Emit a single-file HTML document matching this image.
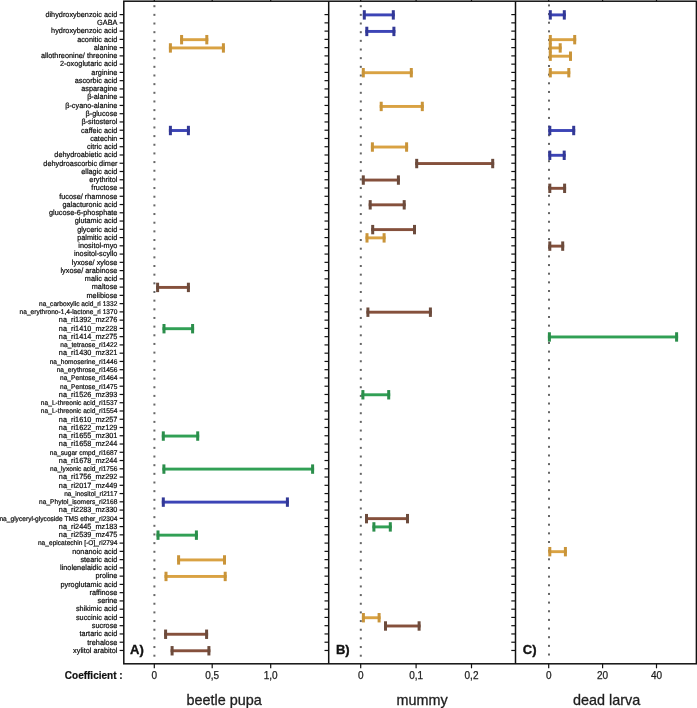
<!DOCTYPE html><html><head><meta charset="utf-8"><style>html,body{margin:0;padding:0;background:#fff;}svg{display:block;}text{font-family:"Liberation Sans",sans-serif;}</style></head><body>
<svg style="will-change:transform" width="697" height="708" viewBox="0 0 697 708">
<g transform="scale(0.1,0.10300000000000001)" fill="#0a0a0a" stroke="#0a0a0a" stroke-width="2.0" text-anchor="end" text-rendering="geometricPrecision">
<text x="1174.0" y="164.1" font-size="73.20">dihydroxybenzoic acid</text>
<text x="1174.0" y="244.3" font-size="73.20">GABA</text>
<text x="1174.0" y="324.4" font-size="73.20">hydroxybenzoic acid</text>
<text x="1174.0" y="404.6" font-size="73.20">aconitic acid</text>
<text x="1174.0" y="484.8" font-size="73.20">alanine</text>
<text x="1174.0" y="565.0" font-size="73.20">allothreonine/ threonine</text>
<text x="1174.0" y="645.1" font-size="73.20">2-oxoglutaric acid</text>
<text x="1174.0" y="725.3" font-size="73.20">arginine</text>
<text x="1174.0" y="805.5" font-size="73.20">ascorbic acid</text>
<text x="1174.0" y="885.7" font-size="73.20">asparagine</text>
<text x="1174.0" y="965.8" font-size="73.20">β-alanine</text>
<text x="1174.0" y="1046.0" font-size="73.20">β-cyano-alanine</text>
<text x="1174.0" y="1126.2" font-size="73.20">β-glucose</text>
<text x="1174.0" y="1206.3" font-size="73.20">β-sitosterol</text>
<text x="1174.0" y="1286.5" font-size="73.20">caffeic acid</text>
<text x="1174.0" y="1366.7" font-size="73.20">catechin</text>
<text x="1174.0" y="1446.9" font-size="73.20">citric acid</text>
<text x="1174.0" y="1527.0" font-size="73.20">dehydroabietic acid</text>
<text x="1174.0" y="1607.2" font-size="73.20">dehydroascorbic dimer</text>
<text x="1174.0" y="1687.4" font-size="73.20">ellagic acid</text>
<text x="1174.0" y="1767.6" font-size="73.20">erythritol</text>
<text x="1174.0" y="1847.7" font-size="73.20">fructose</text>
<text x="1174.0" y="1927.9" font-size="73.20">fucose/ rhamnose</text>
<text x="1174.0" y="2008.1" font-size="73.20">galacturonic acid</text>
<text x="1174.0" y="2088.3" font-size="73.20">glucose-6-phosphate</text>
<text x="1174.0" y="2168.4" font-size="73.20">glutamic acid</text>
<text x="1174.0" y="2248.6" font-size="73.20">glyceric acid</text>
<text x="1174.0" y="2328.8" font-size="73.20">palmitic acid</text>
<text x="1174.0" y="2409.0" font-size="73.20">inositol-myo</text>
<text x="1174.0" y="2489.1" font-size="73.20">inositol-scyllo</text>
<text x="1174.0" y="2569.3" font-size="73.20">lyxose/ xylose</text>
<text x="1174.0" y="2649.5" font-size="73.20">lyxose/ arabinose</text>
<text x="1174.0" y="2729.7" font-size="73.20">malic acid</text>
<text x="1174.0" y="2809.8" font-size="73.20">maltose</text>
<text x="1174.0" y="2890.0" font-size="73.20">melibiose</text>
<text x="1174.0" y="2970.7" font-size="66.20">na_carboxylic acid_ri 1332</text>
<text x="1174.0" y="3050.9" font-size="66.20">na_erythrono-1,4-lactone_ri 1370</text>
<text x="1174.0" y="3130.5" font-size="73.20">na_ri1392_mz276</text>
<text x="1174.0" y="3210.7" font-size="73.20">na_ri1410_mz228</text>
<text x="1174.0" y="3290.9" font-size="73.20">na_ri1414_mz275</text>
<text x="1174.0" y="3371.6" font-size="66.20">na_tetraose_ri1422</text>
<text x="1174.0" y="3451.2" font-size="73.20">na_ri1430_mz321</text>
<text x="1174.0" y="3531.9" font-size="66.20">na_homoserine_ri1446</text>
<text x="1174.0" y="3612.1" font-size="66.20">na_erythrose_ri1456</text>
<text x="1174.0" y="3692.3" font-size="66.20">na_Pentose_ri1464</text>
<text x="1174.0" y="3772.4" font-size="66.20">na_Pentose_ri1475</text>
<text x="1174.0" y="3852.1" font-size="73.20">na_ri1526_mz393</text>
<text x="1174.0" y="3932.8" font-size="66.20">na_L-threonic acid_ri1537</text>
<text x="1174.0" y="4013.0" font-size="66.20">na_L-threonic acid_ri1554</text>
<text x="1174.0" y="4092.6" font-size="73.20">na_ri1610_mz257</text>
<text x="1174.0" y="4172.8" font-size="73.20">na_ri1622_mz129</text>
<text x="1174.0" y="4253.0" font-size="73.20">na_ri1655_mz301</text>
<text x="1174.0" y="4333.2" font-size="73.20">na_ri1658_mz244</text>
<text x="1174.0" y="4413.8" font-size="66.20">na_sugar cmpd_ri1687</text>
<text x="1174.0" y="4493.5" font-size="73.20">na_ri1678_mz244</text>
<text x="1174.0" y="4574.2" font-size="66.20">na_lyxonic acid_ri1756</text>
<text x="1174.0" y="4653.9" font-size="73.20">na_ri1756_mz292</text>
<text x="1174.0" y="4734.0" font-size="73.20">na_ri2017_mz449</text>
<text x="1174.0" y="4814.7" font-size="66.20">na_inositol_ri2117</text>
<text x="1174.0" y="4894.9" font-size="66.20">na_Phytol_isomers_ri2168</text>
<text x="1174.0" y="4974.6" font-size="73.20">na_ri2283_mz330</text>
<text x="1174.0" y="5055.2" font-size="66.20">na_glyceryl-glycoside TMS ether_ri2304</text>
<text x="1174.0" y="5134.9" font-size="73.20">na_ri2445_mz183</text>
<text x="1174.0" y="5215.1" font-size="73.20">na_ri2539_mz475</text>
<text x="1174.0" y="5295.7" font-size="66.20">na_epicatechin [-O]_ri2794</text>
<text x="1174.0" y="5375.4" font-size="73.20">nonanoic acid</text>
<text x="1174.0" y="5455.6" font-size="73.20">stearic acid</text>
<text x="1174.0" y="5535.8" font-size="73.20">linolenelaidic acid</text>
<text x="1174.0" y="5616.0" font-size="73.20">proline</text>
<text x="1174.0" y="5696.1" font-size="73.20">pyroglutamic acid</text>
<text x="1174.0" y="5776.3" font-size="73.20">raffinose</text>
<text x="1174.0" y="5856.5" font-size="73.20">serine</text>
<text x="1174.0" y="5936.7" font-size="73.20">shikimic acid</text>
<text x="1174.0" y="6016.8" font-size="73.20">succinic acid</text>
<text x="1174.0" y="6097.0" font-size="73.20">sucrose</text>
<text x="1174.0" y="6177.2" font-size="73.20">tartaric acid</text>
<text x="1174.0" y="6257.4" font-size="73.20">trehalose</text>
<text x="1174.0" y="6337.5" font-size="73.20">xylitol arabitol</text>
</g>
<g stroke="#111" stroke-width="1.5" fill="none">
<rect x="123.8" y="1.2" width="572.6" height="662.5999999999999"/>
<line x1="328.7" y1="1.2" x2="328.7" y2="663.8"/><line x1="515.5" y1="1.2" x2="515.5" y2="663.8"/>
</g>
<g stroke="#111" stroke-width="1.2">
<line x1="119.6" y1="14.60" x2="123.8" y2="14.60"/>
<line x1="119.6" y1="22.86" x2="123.8" y2="22.86"/>
<line x1="119.6" y1="31.12" x2="123.8" y2="31.12"/>
<line x1="119.6" y1="39.37" x2="123.8" y2="39.37"/>
<line x1="119.6" y1="47.63" x2="123.8" y2="47.63"/>
<line x1="119.6" y1="55.89" x2="123.8" y2="55.89"/>
<line x1="119.6" y1="64.15" x2="123.8" y2="64.15"/>
<line x1="119.6" y1="72.41" x2="123.8" y2="72.41"/>
<line x1="119.6" y1="80.66" x2="123.8" y2="80.66"/>
<line x1="119.6" y1="88.92" x2="123.8" y2="88.92"/>
<line x1="119.6" y1="97.18" x2="123.8" y2="97.18"/>
<line x1="119.6" y1="105.44" x2="123.8" y2="105.44"/>
<line x1="119.6" y1="113.70" x2="123.8" y2="113.70"/>
<line x1="119.6" y1="121.95" x2="123.8" y2="121.95"/>
<line x1="119.6" y1="130.21" x2="123.8" y2="130.21"/>
<line x1="119.6" y1="138.47" x2="123.8" y2="138.47"/>
<line x1="119.6" y1="146.73" x2="123.8" y2="146.73"/>
<line x1="119.6" y1="154.99" x2="123.8" y2="154.99"/>
<line x1="119.6" y1="163.24" x2="123.8" y2="163.24"/>
<line x1="119.6" y1="171.50" x2="123.8" y2="171.50"/>
<line x1="119.6" y1="179.76" x2="123.8" y2="179.76"/>
<line x1="119.6" y1="188.02" x2="123.8" y2="188.02"/>
<line x1="119.6" y1="196.28" x2="123.8" y2="196.28"/>
<line x1="119.6" y1="204.53" x2="123.8" y2="204.53"/>
<line x1="119.6" y1="212.79" x2="123.8" y2="212.79"/>
<line x1="119.6" y1="221.05" x2="123.8" y2="221.05"/>
<line x1="119.6" y1="229.31" x2="123.8" y2="229.31"/>
<line x1="119.6" y1="237.57" x2="123.8" y2="237.57"/>
<line x1="119.6" y1="245.82" x2="123.8" y2="245.82"/>
<line x1="119.6" y1="254.08" x2="123.8" y2="254.08"/>
<line x1="119.6" y1="262.34" x2="123.8" y2="262.34"/>
<line x1="119.6" y1="270.60" x2="123.8" y2="270.60"/>
<line x1="119.6" y1="278.86" x2="123.8" y2="278.86"/>
<line x1="119.6" y1="287.11" x2="123.8" y2="287.11"/>
<line x1="119.6" y1="295.37" x2="123.8" y2="295.37"/>
<line x1="119.6" y1="303.63" x2="123.8" y2="303.63"/>
<line x1="119.6" y1="311.89" x2="123.8" y2="311.89"/>
<line x1="119.6" y1="320.15" x2="123.8" y2="320.15"/>
<line x1="119.6" y1="328.40" x2="123.8" y2="328.40"/>
<line x1="119.6" y1="336.66" x2="123.8" y2="336.66"/>
<line x1="119.6" y1="344.92" x2="123.8" y2="344.92"/>
<line x1="119.6" y1="353.18" x2="123.8" y2="353.18"/>
<line x1="119.6" y1="361.44" x2="123.8" y2="361.44"/>
<line x1="119.6" y1="369.69" x2="123.8" y2="369.69"/>
<line x1="119.6" y1="377.95" x2="123.8" y2="377.95"/>
<line x1="119.6" y1="386.21" x2="123.8" y2="386.21"/>
<line x1="119.6" y1="394.47" x2="123.8" y2="394.47"/>
<line x1="119.6" y1="402.73" x2="123.8" y2="402.73"/>
<line x1="119.6" y1="410.98" x2="123.8" y2="410.98"/>
<line x1="119.6" y1="419.24" x2="123.8" y2="419.24"/>
<line x1="119.6" y1="427.50" x2="123.8" y2="427.50"/>
<line x1="119.6" y1="435.76" x2="123.8" y2="435.76"/>
<line x1="119.6" y1="444.02" x2="123.8" y2="444.02"/>
<line x1="119.6" y1="452.27" x2="123.8" y2="452.27"/>
<line x1="119.6" y1="460.53" x2="123.8" y2="460.53"/>
<line x1="119.6" y1="468.79" x2="123.8" y2="468.79"/>
<line x1="119.6" y1="477.05" x2="123.8" y2="477.05"/>
<line x1="119.6" y1="485.31" x2="123.8" y2="485.31"/>
<line x1="119.6" y1="493.56" x2="123.8" y2="493.56"/>
<line x1="119.6" y1="501.82" x2="123.8" y2="501.82"/>
<line x1="119.6" y1="510.08" x2="123.8" y2="510.08"/>
<line x1="119.6" y1="518.34" x2="123.8" y2="518.34"/>
<line x1="119.6" y1="526.60" x2="123.8" y2="526.60"/>
<line x1="119.6" y1="534.85" x2="123.8" y2="534.85"/>
<line x1="119.6" y1="543.11" x2="123.8" y2="543.11"/>
<line x1="119.6" y1="551.37" x2="123.8" y2="551.37"/>
<line x1="119.6" y1="559.63" x2="123.8" y2="559.63"/>
<line x1="119.6" y1="567.89" x2="123.8" y2="567.89"/>
<line x1="119.6" y1="576.14" x2="123.8" y2="576.14"/>
<line x1="119.6" y1="584.40" x2="123.8" y2="584.40"/>
<line x1="119.6" y1="592.66" x2="123.8" y2="592.66"/>
<line x1="119.6" y1="600.92" x2="123.8" y2="600.92"/>
<line x1="119.6" y1="609.18" x2="123.8" y2="609.18"/>
<line x1="119.6" y1="617.43" x2="123.8" y2="617.43"/>
<line x1="119.6" y1="625.69" x2="123.8" y2="625.69"/>
<line x1="119.6" y1="633.95" x2="123.8" y2="633.95"/>
<line x1="119.6" y1="642.21" x2="123.8" y2="642.21"/>
<line x1="119.6" y1="650.47" x2="123.8" y2="650.47"/>
<line x1="324.5" y1="14.60" x2="328.7" y2="14.60"/>
<line x1="324.5" y1="22.86" x2="328.7" y2="22.86"/>
<line x1="324.5" y1="31.12" x2="328.7" y2="31.12"/>
<line x1="324.5" y1="39.37" x2="328.7" y2="39.37"/>
<line x1="324.5" y1="47.63" x2="328.7" y2="47.63"/>
<line x1="324.5" y1="55.89" x2="328.7" y2="55.89"/>
<line x1="324.5" y1="64.15" x2="328.7" y2="64.15"/>
<line x1="324.5" y1="72.41" x2="328.7" y2="72.41"/>
<line x1="324.5" y1="80.66" x2="328.7" y2="80.66"/>
<line x1="324.5" y1="88.92" x2="328.7" y2="88.92"/>
<line x1="324.5" y1="97.18" x2="328.7" y2="97.18"/>
<line x1="324.5" y1="105.44" x2="328.7" y2="105.44"/>
<line x1="324.5" y1="113.70" x2="328.7" y2="113.70"/>
<line x1="324.5" y1="121.95" x2="328.7" y2="121.95"/>
<line x1="324.5" y1="130.21" x2="328.7" y2="130.21"/>
<line x1="324.5" y1="138.47" x2="328.7" y2="138.47"/>
<line x1="324.5" y1="146.73" x2="328.7" y2="146.73"/>
<line x1="324.5" y1="154.99" x2="328.7" y2="154.99"/>
<line x1="324.5" y1="163.24" x2="328.7" y2="163.24"/>
<line x1="324.5" y1="171.50" x2="328.7" y2="171.50"/>
<line x1="324.5" y1="179.76" x2="328.7" y2="179.76"/>
<line x1="324.5" y1="188.02" x2="328.7" y2="188.02"/>
<line x1="324.5" y1="196.28" x2="328.7" y2="196.28"/>
<line x1="324.5" y1="204.53" x2="328.7" y2="204.53"/>
<line x1="324.5" y1="212.79" x2="328.7" y2="212.79"/>
<line x1="324.5" y1="221.05" x2="328.7" y2="221.05"/>
<line x1="324.5" y1="229.31" x2="328.7" y2="229.31"/>
<line x1="324.5" y1="237.57" x2="328.7" y2="237.57"/>
<line x1="324.5" y1="245.82" x2="328.7" y2="245.82"/>
<line x1="324.5" y1="254.08" x2="328.7" y2="254.08"/>
<line x1="324.5" y1="262.34" x2="328.7" y2="262.34"/>
<line x1="324.5" y1="270.60" x2="328.7" y2="270.60"/>
<line x1="324.5" y1="278.86" x2="328.7" y2="278.86"/>
<line x1="324.5" y1="287.11" x2="328.7" y2="287.11"/>
<line x1="324.5" y1="295.37" x2="328.7" y2="295.37"/>
<line x1="324.5" y1="303.63" x2="328.7" y2="303.63"/>
<line x1="324.5" y1="311.89" x2="328.7" y2="311.89"/>
<line x1="324.5" y1="320.15" x2="328.7" y2="320.15"/>
<line x1="324.5" y1="328.40" x2="328.7" y2="328.40"/>
<line x1="324.5" y1="336.66" x2="328.7" y2="336.66"/>
<line x1="324.5" y1="344.92" x2="328.7" y2="344.92"/>
<line x1="324.5" y1="353.18" x2="328.7" y2="353.18"/>
<line x1="324.5" y1="361.44" x2="328.7" y2="361.44"/>
<line x1="324.5" y1="369.69" x2="328.7" y2="369.69"/>
<line x1="324.5" y1="377.95" x2="328.7" y2="377.95"/>
<line x1="324.5" y1="386.21" x2="328.7" y2="386.21"/>
<line x1="324.5" y1="394.47" x2="328.7" y2="394.47"/>
<line x1="324.5" y1="402.73" x2="328.7" y2="402.73"/>
<line x1="324.5" y1="410.98" x2="328.7" y2="410.98"/>
<line x1="324.5" y1="419.24" x2="328.7" y2="419.24"/>
<line x1="324.5" y1="427.50" x2="328.7" y2="427.50"/>
<line x1="324.5" y1="435.76" x2="328.7" y2="435.76"/>
<line x1="324.5" y1="444.02" x2="328.7" y2="444.02"/>
<line x1="324.5" y1="452.27" x2="328.7" y2="452.27"/>
<line x1="324.5" y1="460.53" x2="328.7" y2="460.53"/>
<line x1="324.5" y1="468.79" x2="328.7" y2="468.79"/>
<line x1="324.5" y1="477.05" x2="328.7" y2="477.05"/>
<line x1="324.5" y1="485.31" x2="328.7" y2="485.31"/>
<line x1="324.5" y1="493.56" x2="328.7" y2="493.56"/>
<line x1="324.5" y1="501.82" x2="328.7" y2="501.82"/>
<line x1="324.5" y1="510.08" x2="328.7" y2="510.08"/>
<line x1="324.5" y1="518.34" x2="328.7" y2="518.34"/>
<line x1="324.5" y1="526.60" x2="328.7" y2="526.60"/>
<line x1="324.5" y1="534.85" x2="328.7" y2="534.85"/>
<line x1="324.5" y1="543.11" x2="328.7" y2="543.11"/>
<line x1="324.5" y1="551.37" x2="328.7" y2="551.37"/>
<line x1="324.5" y1="559.63" x2="328.7" y2="559.63"/>
<line x1="324.5" y1="567.89" x2="328.7" y2="567.89"/>
<line x1="324.5" y1="576.14" x2="328.7" y2="576.14"/>
<line x1="324.5" y1="584.40" x2="328.7" y2="584.40"/>
<line x1="324.5" y1="592.66" x2="328.7" y2="592.66"/>
<line x1="324.5" y1="600.92" x2="328.7" y2="600.92"/>
<line x1="324.5" y1="609.18" x2="328.7" y2="609.18"/>
<line x1="324.5" y1="617.43" x2="328.7" y2="617.43"/>
<line x1="324.5" y1="625.69" x2="328.7" y2="625.69"/>
<line x1="324.5" y1="633.95" x2="328.7" y2="633.95"/>
<line x1="324.5" y1="642.21" x2="328.7" y2="642.21"/>
<line x1="324.5" y1="650.47" x2="328.7" y2="650.47"/>
<line x1="511.3" y1="14.60" x2="515.5" y2="14.60"/>
<line x1="511.3" y1="22.86" x2="515.5" y2="22.86"/>
<line x1="511.3" y1="31.12" x2="515.5" y2="31.12"/>
<line x1="511.3" y1="39.37" x2="515.5" y2="39.37"/>
<line x1="511.3" y1="47.63" x2="515.5" y2="47.63"/>
<line x1="511.3" y1="55.89" x2="515.5" y2="55.89"/>
<line x1="511.3" y1="64.15" x2="515.5" y2="64.15"/>
<line x1="511.3" y1="72.41" x2="515.5" y2="72.41"/>
<line x1="511.3" y1="80.66" x2="515.5" y2="80.66"/>
<line x1="511.3" y1="88.92" x2="515.5" y2="88.92"/>
<line x1="511.3" y1="97.18" x2="515.5" y2="97.18"/>
<line x1="511.3" y1="105.44" x2="515.5" y2="105.44"/>
<line x1="511.3" y1="113.70" x2="515.5" y2="113.70"/>
<line x1="511.3" y1="121.95" x2="515.5" y2="121.95"/>
<line x1="511.3" y1="130.21" x2="515.5" y2="130.21"/>
<line x1="511.3" y1="138.47" x2="515.5" y2="138.47"/>
<line x1="511.3" y1="146.73" x2="515.5" y2="146.73"/>
<line x1="511.3" y1="154.99" x2="515.5" y2="154.99"/>
<line x1="511.3" y1="163.24" x2="515.5" y2="163.24"/>
<line x1="511.3" y1="171.50" x2="515.5" y2="171.50"/>
<line x1="511.3" y1="179.76" x2="515.5" y2="179.76"/>
<line x1="511.3" y1="188.02" x2="515.5" y2="188.02"/>
<line x1="511.3" y1="196.28" x2="515.5" y2="196.28"/>
<line x1="511.3" y1="204.53" x2="515.5" y2="204.53"/>
<line x1="511.3" y1="212.79" x2="515.5" y2="212.79"/>
<line x1="511.3" y1="221.05" x2="515.5" y2="221.05"/>
<line x1="511.3" y1="229.31" x2="515.5" y2="229.31"/>
<line x1="511.3" y1="237.57" x2="515.5" y2="237.57"/>
<line x1="511.3" y1="245.82" x2="515.5" y2="245.82"/>
<line x1="511.3" y1="254.08" x2="515.5" y2="254.08"/>
<line x1="511.3" y1="262.34" x2="515.5" y2="262.34"/>
<line x1="511.3" y1="270.60" x2="515.5" y2="270.60"/>
<line x1="511.3" y1="278.86" x2="515.5" y2="278.86"/>
<line x1="511.3" y1="287.11" x2="515.5" y2="287.11"/>
<line x1="511.3" y1="295.37" x2="515.5" y2="295.37"/>
<line x1="511.3" y1="303.63" x2="515.5" y2="303.63"/>
<line x1="511.3" y1="311.89" x2="515.5" y2="311.89"/>
<line x1="511.3" y1="320.15" x2="515.5" y2="320.15"/>
<line x1="511.3" y1="328.40" x2="515.5" y2="328.40"/>
<line x1="511.3" y1="336.66" x2="515.5" y2="336.66"/>
<line x1="511.3" y1="344.92" x2="515.5" y2="344.92"/>
<line x1="511.3" y1="353.18" x2="515.5" y2="353.18"/>
<line x1="511.3" y1="361.44" x2="515.5" y2="361.44"/>
<line x1="511.3" y1="369.69" x2="515.5" y2="369.69"/>
<line x1="511.3" y1="377.95" x2="515.5" y2="377.95"/>
<line x1="511.3" y1="386.21" x2="515.5" y2="386.21"/>
<line x1="511.3" y1="394.47" x2="515.5" y2="394.47"/>
<line x1="511.3" y1="402.73" x2="515.5" y2="402.73"/>
<line x1="511.3" y1="410.98" x2="515.5" y2="410.98"/>
<line x1="511.3" y1="419.24" x2="515.5" y2="419.24"/>
<line x1="511.3" y1="427.50" x2="515.5" y2="427.50"/>
<line x1="511.3" y1="435.76" x2="515.5" y2="435.76"/>
<line x1="511.3" y1="444.02" x2="515.5" y2="444.02"/>
<line x1="511.3" y1="452.27" x2="515.5" y2="452.27"/>
<line x1="511.3" y1="460.53" x2="515.5" y2="460.53"/>
<line x1="511.3" y1="468.79" x2="515.5" y2="468.79"/>
<line x1="511.3" y1="477.05" x2="515.5" y2="477.05"/>
<line x1="511.3" y1="485.31" x2="515.5" y2="485.31"/>
<line x1="511.3" y1="493.56" x2="515.5" y2="493.56"/>
<line x1="511.3" y1="501.82" x2="515.5" y2="501.82"/>
<line x1="511.3" y1="510.08" x2="515.5" y2="510.08"/>
<line x1="511.3" y1="518.34" x2="515.5" y2="518.34"/>
<line x1="511.3" y1="526.60" x2="515.5" y2="526.60"/>
<line x1="511.3" y1="534.85" x2="515.5" y2="534.85"/>
<line x1="511.3" y1="543.11" x2="515.5" y2="543.11"/>
<line x1="511.3" y1="551.37" x2="515.5" y2="551.37"/>
<line x1="511.3" y1="559.63" x2="515.5" y2="559.63"/>
<line x1="511.3" y1="567.89" x2="515.5" y2="567.89"/>
<line x1="511.3" y1="576.14" x2="515.5" y2="576.14"/>
<line x1="511.3" y1="584.40" x2="515.5" y2="584.40"/>
<line x1="511.3" y1="592.66" x2="515.5" y2="592.66"/>
<line x1="511.3" y1="600.92" x2="515.5" y2="600.92"/>
<line x1="511.3" y1="609.18" x2="515.5" y2="609.18"/>
<line x1="511.3" y1="617.43" x2="515.5" y2="617.43"/>
<line x1="511.3" y1="625.69" x2="515.5" y2="625.69"/>
<line x1="511.3" y1="633.95" x2="515.5" y2="633.95"/>
<line x1="511.3" y1="642.21" x2="515.5" y2="642.21"/>
<line x1="511.3" y1="650.47" x2="515.5" y2="650.47"/>
</g>
<g stroke="#111" stroke-width="1.2">
<line x1="154.3" y1="663.8" x2="154.3" y2="668.3"/>
<line x1="154.3" y1="-3" x2="154.3" y2="1.2"/>
<line x1="212.2" y1="663.8" x2="212.2" y2="668.3"/>
<line x1="212.2" y1="-3" x2="212.2" y2="1.2"/>
<line x1="270.7" y1="663.8" x2="270.7" y2="668.3"/>
<line x1="270.7" y1="-3" x2="270.7" y2="1.2"/>
<line x1="360.7" y1="663.8" x2="360.7" y2="668.3"/>
<line x1="360.7" y1="-3" x2="360.7" y2="1.2"/>
<line x1="416.1" y1="663.8" x2="416.1" y2="668.3"/>
<line x1="416.1" y1="-3" x2="416.1" y2="1.2"/>
<line x1="471.5" y1="663.8" x2="471.5" y2="668.3"/>
<line x1="471.5" y1="-3" x2="471.5" y2="1.2"/>
<line x1="548.7" y1="663.8" x2="548.7" y2="668.3"/>
<line x1="548.7" y1="-3" x2="548.7" y2="1.2"/>
<line x1="602.6" y1="663.8" x2="602.6" y2="668.3"/>
<line x1="602.6" y1="-3" x2="602.6" y2="1.2"/>
<line x1="656.5" y1="663.8" x2="656.5" y2="668.3"/>
<line x1="656.5" y1="-3" x2="656.5" y2="1.2"/>
</g>
<g fill="#1e1e1e" stroke="#1e1e1e" stroke-width="0.25" text-anchor="middle" font-size="10">
<text x="154.3" y="678.7">0</text>
<text x="212.2" y="678.7">0,5</text>
<text x="270.7" y="678.7">1,0</text>
<text x="360.7" y="678.7">0</text>
<text x="416.1" y="678.7">0,1</text>
<text x="471.5" y="678.7">0,2</text>
<text x="548.7" y="678.7">0</text>
<text x="602.6" y="678.7">20</text>
<text x="656.5" y="678.7">40</text>
</g>
<g fill="#666">
<rect x="153.4" y="5.20" width="2.0" height="2.0"/>
<rect x="153.4" y="13.86" width="2.0" height="2.0"/>
<rect x="153.4" y="22.52" width="2.0" height="2.0"/>
<rect x="153.4" y="31.18" width="2.0" height="2.0"/>
<rect x="153.4" y="39.84" width="2.0" height="2.0"/>
<rect x="153.4" y="48.50" width="2.0" height="2.0"/>
<rect x="153.4" y="57.16" width="2.0" height="2.0"/>
<rect x="153.4" y="65.82" width="2.0" height="2.0"/>
<rect x="153.4" y="74.48" width="2.0" height="2.0"/>
<rect x="153.4" y="83.14" width="2.0" height="2.0"/>
<rect x="153.4" y="91.80" width="2.0" height="2.0"/>
<rect x="153.4" y="100.46" width="2.0" height="2.0"/>
<rect x="153.4" y="109.12" width="2.0" height="2.0"/>
<rect x="153.4" y="117.78" width="2.0" height="2.0"/>
<rect x="153.4" y="126.44" width="2.0" height="2.0"/>
<rect x="153.4" y="135.10" width="2.0" height="2.0"/>
<rect x="153.4" y="143.76" width="2.0" height="2.0"/>
<rect x="153.4" y="152.42" width="2.0" height="2.0"/>
<rect x="153.4" y="161.08" width="2.0" height="2.0"/>
<rect x="153.4" y="169.74" width="2.0" height="2.0"/>
<rect x="153.4" y="178.40" width="2.0" height="2.0"/>
<rect x="153.4" y="187.06" width="2.0" height="2.0"/>
<rect x="153.4" y="195.72" width="2.0" height="2.0"/>
<rect x="153.4" y="204.38" width="2.0" height="2.0"/>
<rect x="153.4" y="213.04" width="2.0" height="2.0"/>
<rect x="153.4" y="221.70" width="2.0" height="2.0"/>
<rect x="153.4" y="230.36" width="2.0" height="2.0"/>
<rect x="153.4" y="239.02" width="2.0" height="2.0"/>
<rect x="153.4" y="247.68" width="2.0" height="2.0"/>
<rect x="153.4" y="256.34" width="2.0" height="2.0"/>
<rect x="153.4" y="265.00" width="2.0" height="2.0"/>
<rect x="153.4" y="273.66" width="2.0" height="2.0"/>
<rect x="153.4" y="282.32" width="2.0" height="2.0"/>
<rect x="153.4" y="290.98" width="2.0" height="2.0"/>
<rect x="153.4" y="299.64" width="2.0" height="2.0"/>
<rect x="153.4" y="308.30" width="2.0" height="2.0"/>
<rect x="153.4" y="316.96" width="2.0" height="2.0"/>
<rect x="153.4" y="325.62" width="2.0" height="2.0"/>
<rect x="153.4" y="334.28" width="2.0" height="2.0"/>
<rect x="153.4" y="342.94" width="2.0" height="2.0"/>
<rect x="153.4" y="351.60" width="2.0" height="2.0"/>
<rect x="153.4" y="360.26" width="2.0" height="2.0"/>
<rect x="153.4" y="368.92" width="2.0" height="2.0"/>
<rect x="153.4" y="377.58" width="2.0" height="2.0"/>
<rect x="153.4" y="386.24" width="2.0" height="2.0"/>
<rect x="153.4" y="394.90" width="2.0" height="2.0"/>
<rect x="153.4" y="403.56" width="2.0" height="2.0"/>
<rect x="153.4" y="412.22" width="2.0" height="2.0"/>
<rect x="153.4" y="420.88" width="2.0" height="2.0"/>
<rect x="153.4" y="429.54" width="2.0" height="2.0"/>
<rect x="153.4" y="438.20" width="2.0" height="2.0"/>
<rect x="153.4" y="446.86" width="2.0" height="2.0"/>
<rect x="153.4" y="455.52" width="2.0" height="2.0"/>
<rect x="153.4" y="464.18" width="2.0" height="2.0"/>
<rect x="153.4" y="472.84" width="2.0" height="2.0"/>
<rect x="153.4" y="481.50" width="2.0" height="2.0"/>
<rect x="153.4" y="490.16" width="2.0" height="2.0"/>
<rect x="153.4" y="498.82" width="2.0" height="2.0"/>
<rect x="153.4" y="507.48" width="2.0" height="2.0"/>
<rect x="153.4" y="516.14" width="2.0" height="2.0"/>
<rect x="153.4" y="524.80" width="2.0" height="2.0"/>
<rect x="153.4" y="533.46" width="2.0" height="2.0"/>
<rect x="153.4" y="542.12" width="2.0" height="2.0"/>
<rect x="153.4" y="550.78" width="2.0" height="2.0"/>
<rect x="153.4" y="559.44" width="2.0" height="2.0"/>
<rect x="153.4" y="568.10" width="2.0" height="2.0"/>
<rect x="153.4" y="576.76" width="2.0" height="2.0"/>
<rect x="153.4" y="585.42" width="2.0" height="2.0"/>
<rect x="153.4" y="594.08" width="2.0" height="2.0"/>
<rect x="153.4" y="602.74" width="2.0" height="2.0"/>
<rect x="153.4" y="611.40" width="2.0" height="2.0"/>
<rect x="153.4" y="620.06" width="2.0" height="2.0"/>
<rect x="153.4" y="628.72" width="2.0" height="2.0"/>
<rect x="153.4" y="637.38" width="2.0" height="2.0"/>
<rect x="153.4" y="646.04" width="2.0" height="2.0"/>
<rect x="153.4" y="654.70" width="2.0" height="2.0"/>
<rect x="359.8" y="5.20" width="2.0" height="2.0"/>
<rect x="359.8" y="13.86" width="2.0" height="2.0"/>
<rect x="359.8" y="22.52" width="2.0" height="2.0"/>
<rect x="359.8" y="31.18" width="2.0" height="2.0"/>
<rect x="359.8" y="39.84" width="2.0" height="2.0"/>
<rect x="359.8" y="48.50" width="2.0" height="2.0"/>
<rect x="359.8" y="57.16" width="2.0" height="2.0"/>
<rect x="359.8" y="65.82" width="2.0" height="2.0"/>
<rect x="359.8" y="74.48" width="2.0" height="2.0"/>
<rect x="359.8" y="83.14" width="2.0" height="2.0"/>
<rect x="359.8" y="91.80" width="2.0" height="2.0"/>
<rect x="359.8" y="100.46" width="2.0" height="2.0"/>
<rect x="359.8" y="109.12" width="2.0" height="2.0"/>
<rect x="359.8" y="117.78" width="2.0" height="2.0"/>
<rect x="359.8" y="126.44" width="2.0" height="2.0"/>
<rect x="359.8" y="135.10" width="2.0" height="2.0"/>
<rect x="359.8" y="143.76" width="2.0" height="2.0"/>
<rect x="359.8" y="152.42" width="2.0" height="2.0"/>
<rect x="359.8" y="161.08" width="2.0" height="2.0"/>
<rect x="359.8" y="169.74" width="2.0" height="2.0"/>
<rect x="359.8" y="178.40" width="2.0" height="2.0"/>
<rect x="359.8" y="187.06" width="2.0" height="2.0"/>
<rect x="359.8" y="195.72" width="2.0" height="2.0"/>
<rect x="359.8" y="204.38" width="2.0" height="2.0"/>
<rect x="359.8" y="213.04" width="2.0" height="2.0"/>
<rect x="359.8" y="221.70" width="2.0" height="2.0"/>
<rect x="359.8" y="230.36" width="2.0" height="2.0"/>
<rect x="359.8" y="239.02" width="2.0" height="2.0"/>
<rect x="359.8" y="247.68" width="2.0" height="2.0"/>
<rect x="359.8" y="256.34" width="2.0" height="2.0"/>
<rect x="359.8" y="265.00" width="2.0" height="2.0"/>
<rect x="359.8" y="273.66" width="2.0" height="2.0"/>
<rect x="359.8" y="282.32" width="2.0" height="2.0"/>
<rect x="359.8" y="290.98" width="2.0" height="2.0"/>
<rect x="359.8" y="299.64" width="2.0" height="2.0"/>
<rect x="359.8" y="308.30" width="2.0" height="2.0"/>
<rect x="359.8" y="316.96" width="2.0" height="2.0"/>
<rect x="359.8" y="325.62" width="2.0" height="2.0"/>
<rect x="359.8" y="334.28" width="2.0" height="2.0"/>
<rect x="359.8" y="342.94" width="2.0" height="2.0"/>
<rect x="359.8" y="351.60" width="2.0" height="2.0"/>
<rect x="359.8" y="360.26" width="2.0" height="2.0"/>
<rect x="359.8" y="368.92" width="2.0" height="2.0"/>
<rect x="359.8" y="377.58" width="2.0" height="2.0"/>
<rect x="359.8" y="386.24" width="2.0" height="2.0"/>
<rect x="359.8" y="394.90" width="2.0" height="2.0"/>
<rect x="359.8" y="403.56" width="2.0" height="2.0"/>
<rect x="359.8" y="412.22" width="2.0" height="2.0"/>
<rect x="359.8" y="420.88" width="2.0" height="2.0"/>
<rect x="359.8" y="429.54" width="2.0" height="2.0"/>
<rect x="359.8" y="438.20" width="2.0" height="2.0"/>
<rect x="359.8" y="446.86" width="2.0" height="2.0"/>
<rect x="359.8" y="455.52" width="2.0" height="2.0"/>
<rect x="359.8" y="464.18" width="2.0" height="2.0"/>
<rect x="359.8" y="472.84" width="2.0" height="2.0"/>
<rect x="359.8" y="481.50" width="2.0" height="2.0"/>
<rect x="359.8" y="490.16" width="2.0" height="2.0"/>
<rect x="359.8" y="498.82" width="2.0" height="2.0"/>
<rect x="359.8" y="507.48" width="2.0" height="2.0"/>
<rect x="359.8" y="516.14" width="2.0" height="2.0"/>
<rect x="359.8" y="524.80" width="2.0" height="2.0"/>
<rect x="359.8" y="533.46" width="2.0" height="2.0"/>
<rect x="359.8" y="542.12" width="2.0" height="2.0"/>
<rect x="359.8" y="550.78" width="2.0" height="2.0"/>
<rect x="359.8" y="559.44" width="2.0" height="2.0"/>
<rect x="359.8" y="568.10" width="2.0" height="2.0"/>
<rect x="359.8" y="576.76" width="2.0" height="2.0"/>
<rect x="359.8" y="585.42" width="2.0" height="2.0"/>
<rect x="359.8" y="594.08" width="2.0" height="2.0"/>
<rect x="359.8" y="602.74" width="2.0" height="2.0"/>
<rect x="359.8" y="611.40" width="2.0" height="2.0"/>
<rect x="359.8" y="620.06" width="2.0" height="2.0"/>
<rect x="359.8" y="628.72" width="2.0" height="2.0"/>
<rect x="359.8" y="637.38" width="2.0" height="2.0"/>
<rect x="359.8" y="646.04" width="2.0" height="2.0"/>
<rect x="359.8" y="654.70" width="2.0" height="2.0"/>
<rect x="548.0" y="4.40" width="2.0" height="2.0"/>
<rect x="548.0" y="13.05" width="2.0" height="2.0"/>
<rect x="548.0" y="21.71" width="2.0" height="2.0"/>
<rect x="548.0" y="30.36" width="2.0" height="2.0"/>
<rect x="548.0" y="39.02" width="2.0" height="2.0"/>
<rect x="548.0" y="47.67" width="2.0" height="2.0"/>
<rect x="548.0" y="56.33" width="2.0" height="2.0"/>
<rect x="548.0" y="64.98" width="2.0" height="2.0"/>
<rect x="548.0" y="73.64" width="2.0" height="2.0"/>
<rect x="548.0" y="82.30" width="2.0" height="2.0"/>
<rect x="548.0" y="90.95" width="2.0" height="2.0"/>
<rect x="548.0" y="99.61" width="2.0" height="2.0"/>
<rect x="548.0" y="108.26" width="2.0" height="2.0"/>
<rect x="548.0" y="116.91" width="2.0" height="2.0"/>
<rect x="548.0" y="125.57" width="2.0" height="2.0"/>
<rect x="548.0" y="134.22" width="2.0" height="2.0"/>
<rect x="548.0" y="142.88" width="2.0" height="2.0"/>
<rect x="548.0" y="151.53" width="2.0" height="2.0"/>
<rect x="548.0" y="160.19" width="2.0" height="2.0"/>
<rect x="548.0" y="168.84" width="2.0" height="2.0"/>
<rect x="548.0" y="177.50" width="2.0" height="2.0"/>
<rect x="548.0" y="186.16" width="2.0" height="2.0"/>
<rect x="548.0" y="194.81" width="2.0" height="2.0"/>
<rect x="548.0" y="203.47" width="2.0" height="2.0"/>
<rect x="548.0" y="212.12" width="2.0" height="2.0"/>
<rect x="548.0" y="220.77" width="2.0" height="2.0"/>
<rect x="548.0" y="229.43" width="2.0" height="2.0"/>
<rect x="548.0" y="238.08" width="2.0" height="2.0"/>
<rect x="548.0" y="246.74" width="2.0" height="2.0"/>
<rect x="548.0" y="255.39" width="2.0" height="2.0"/>
<rect x="548.0" y="264.05" width="2.0" height="2.0"/>
<rect x="548.0" y="272.70" width="2.0" height="2.0"/>
<rect x="548.0" y="281.36" width="2.0" height="2.0"/>
<rect x="548.0" y="290.01" width="2.0" height="2.0"/>
<rect x="548.0" y="298.67" width="2.0" height="2.0"/>
<rect x="548.0" y="307.32" width="2.0" height="2.0"/>
<rect x="548.0" y="315.98" width="2.0" height="2.0"/>
<rect x="548.0" y="324.63" width="2.0" height="2.0"/>
<rect x="548.0" y="333.29" width="2.0" height="2.0"/>
<rect x="548.0" y="341.94" width="2.0" height="2.0"/>
<rect x="548.0" y="350.60" width="2.0" height="2.0"/>
<rect x="548.0" y="359.25" width="2.0" height="2.0"/>
<rect x="548.0" y="367.91" width="2.0" height="2.0"/>
<rect x="548.0" y="376.56" width="2.0" height="2.0"/>
<rect x="548.0" y="385.22" width="2.0" height="2.0"/>
<rect x="548.0" y="393.87" width="2.0" height="2.0"/>
<rect x="548.0" y="402.53" width="2.0" height="2.0"/>
<rect x="548.0" y="411.18" width="2.0" height="2.0"/>
<rect x="548.0" y="419.84" width="2.0" height="2.0"/>
<rect x="548.0" y="428.49" width="2.0" height="2.0"/>
<rect x="548.0" y="437.15" width="2.0" height="2.0"/>
<rect x="548.0" y="445.80" width="2.0" height="2.0"/>
<rect x="548.0" y="454.46" width="2.0" height="2.0"/>
<rect x="548.0" y="463.11" width="2.0" height="2.0"/>
<rect x="548.0" y="471.77" width="2.0" height="2.0"/>
<rect x="548.0" y="480.42" width="2.0" height="2.0"/>
<rect x="548.0" y="489.08" width="2.0" height="2.0"/>
<rect x="548.0" y="497.73" width="2.0" height="2.0"/>
<rect x="548.0" y="506.39" width="2.0" height="2.0"/>
<rect x="548.0" y="515.04" width="2.0" height="2.0"/>
<rect x="548.0" y="523.70" width="2.0" height="2.0"/>
<rect x="548.0" y="532.35" width="2.0" height="2.0"/>
<rect x="548.0" y="541.01" width="2.0" height="2.0"/>
<rect x="548.0" y="549.66" width="2.0" height="2.0"/>
<rect x="548.0" y="558.32" width="2.0" height="2.0"/>
<rect x="548.0" y="566.97" width="2.0" height="2.0"/>
<rect x="548.0" y="575.63" width="2.0" height="2.0"/>
<rect x="548.0" y="584.28" width="2.0" height="2.0"/>
<rect x="548.0" y="592.94" width="2.0" height="2.0"/>
<rect x="548.0" y="601.59" width="2.0" height="2.0"/>
<rect x="548.0" y="610.25" width="2.0" height="2.0"/>
<rect x="548.0" y="618.90" width="2.0" height="2.0"/>
<rect x="548.0" y="627.56" width="2.0" height="2.0"/>
<rect x="548.0" y="636.21" width="2.0" height="2.0"/>
<rect x="548.0" y="644.87" width="2.0" height="2.0"/>
<rect x="548.0" y="653.52" width="2.0" height="2.0"/>
</g>
<rect x="180.1" y="38.22" width="28.2" height="2.9" fill="#d9a243"/>
<rect x="180.1" y="34.97" width="3.0" height="9.4" fill="#c99439"/>
<rect x="205.3" y="34.97" width="3.0" height="9.4" fill="#c99439"/>
<rect x="168.9" y="46.48" width="56.0" height="2.9" fill="#d9a243"/>
<rect x="168.9" y="43.23" width="3.0" height="9.4" fill="#c99439"/>
<rect x="221.9" y="43.23" width="3.0" height="9.4" fill="#c99439"/>
<rect x="168.9" y="129.06" width="21.0" height="2.9" fill="#3c44b6"/>
<rect x="168.9" y="125.81" width="3.0" height="9.4" fill="#323896"/>
<rect x="186.9" y="125.81" width="3.0" height="9.4" fill="#323896"/>
<rect x="156.1" y="285.96" width="33.8" height="2.9" fill="#85503c"/>
<rect x="156.1" y="282.71" width="3.0" height="9.4" fill="#6c4b3c"/>
<rect x="186.9" y="282.71" width="3.0" height="9.4" fill="#6c4b3c"/>
<rect x="162.5" y="327.25" width="31.6" height="2.9" fill="#31a055"/>
<rect x="162.5" y="324.00" width="3.0" height="9.4" fill="#2b8e4b"/>
<rect x="191.1" y="324.00" width="3.0" height="9.4" fill="#2b8e4b"/>
<rect x="161.8" y="434.61" width="37.4" height="2.9" fill="#31a055"/>
<rect x="161.8" y="431.36" width="3.0" height="9.4" fill="#2b8e4b"/>
<rect x="196.2" y="431.36" width="3.0" height="9.4" fill="#2b8e4b"/>
<rect x="162.4" y="467.64" width="151.7" height="2.9" fill="#31a055"/>
<rect x="162.4" y="464.39" width="3.0" height="9.4" fill="#2b8e4b"/>
<rect x="311.1" y="464.39" width="3.0" height="9.4" fill="#2b8e4b"/>
<rect x="161.8" y="500.67" width="127.1" height="2.9" fill="#3c44b6"/>
<rect x="161.8" y="497.42" width="3.0" height="9.4" fill="#323896"/>
<rect x="285.9" y="497.42" width="3.0" height="9.4" fill="#323896"/>
<rect x="156.5" y="533.70" width="41.4" height="2.9" fill="#31a055"/>
<rect x="156.5" y="530.45" width="3.0" height="9.4" fill="#2b8e4b"/>
<rect x="194.9" y="530.45" width="3.0" height="9.4" fill="#2b8e4b"/>
<rect x="177.1" y="558.48" width="48.9" height="2.9" fill="#d9a243"/>
<rect x="177.1" y="555.23" width="3.0" height="9.4" fill="#c99439"/>
<rect x="223.0" y="555.23" width="3.0" height="9.4" fill="#c99439"/>
<rect x="164.5" y="574.99" width="62.2" height="2.9" fill="#d9a243"/>
<rect x="164.5" y="571.74" width="3.0" height="9.4" fill="#c99439"/>
<rect x="223.7" y="571.74" width="3.0" height="9.4" fill="#c99439"/>
<rect x="164.1" y="632.80" width="44.0" height="2.9" fill="#85503c"/>
<rect x="164.1" y="629.55" width="3.0" height="9.4" fill="#6c4b3c"/>
<rect x="205.1" y="629.55" width="3.0" height="9.4" fill="#6c4b3c"/>
<rect x="170.6" y="649.32" width="39.8" height="2.9" fill="#85503c"/>
<rect x="170.6" y="646.07" width="3.0" height="9.4" fill="#6c4b3c"/>
<rect x="207.4" y="646.07" width="3.0" height="9.4" fill="#6c4b3c"/>
<rect x="362.8" y="13.45" width="32.0" height="2.9" fill="#3c44b6"/>
<rect x="362.8" y="10.20" width="3.0" height="9.4" fill="#323896"/>
<rect x="391.8" y="10.20" width="3.0" height="9.4" fill="#323896"/>
<rect x="365.3" y="29.97" width="30.1" height="2.9" fill="#3c44b6"/>
<rect x="365.3" y="26.72" width="3.0" height="9.4" fill="#323896"/>
<rect x="392.4" y="26.72" width="3.0" height="9.4" fill="#323896"/>
<rect x="361.8" y="71.26" width="51.0" height="2.9" fill="#d9a243"/>
<rect x="361.8" y="68.01" width="3.0" height="9.4" fill="#c99439"/>
<rect x="409.8" y="68.01" width="3.0" height="9.4" fill="#c99439"/>
<rect x="379.7" y="104.99" width="44.1" height="2.9" fill="#d9a243"/>
<rect x="379.7" y="101.74" width="3.0" height="9.4" fill="#c99439"/>
<rect x="420.8" y="101.74" width="3.0" height="9.4" fill="#c99439"/>
<rect x="370.9" y="145.58" width="37.2" height="2.9" fill="#d9a243"/>
<rect x="370.9" y="142.33" width="3.0" height="9.4" fill="#c99439"/>
<rect x="405.1" y="142.33" width="3.0" height="9.4" fill="#c99439"/>
<rect x="415.2" y="162.09" width="79.0" height="2.9" fill="#85503c"/>
<rect x="415.2" y="158.84" width="3.0" height="9.4" fill="#6c4b3c"/>
<rect x="491.2" y="158.84" width="3.0" height="9.4" fill="#6c4b3c"/>
<rect x="361.8" y="178.61" width="38.1" height="2.9" fill="#85503c"/>
<rect x="361.8" y="175.36" width="3.0" height="9.4" fill="#6c4b3c"/>
<rect x="396.9" y="175.36" width="3.0" height="9.4" fill="#6c4b3c"/>
<rect x="368.7" y="203.38" width="37.0" height="2.9" fill="#85503c"/>
<rect x="368.7" y="200.13" width="3.0" height="9.4" fill="#6c4b3c"/>
<rect x="402.7" y="200.13" width="3.0" height="9.4" fill="#6c4b3c"/>
<rect x="371.2" y="228.16" width="44.8" height="2.9" fill="#85503c"/>
<rect x="371.2" y="224.91" width="3.0" height="9.4" fill="#6c4b3c"/>
<rect x="413.0" y="224.91" width="3.0" height="9.4" fill="#6c4b3c"/>
<rect x="365.5" y="236.42" width="20.1" height="2.9" fill="#d9a243"/>
<rect x="365.5" y="233.17" width="3.0" height="9.4" fill="#c99439"/>
<rect x="382.6" y="233.17" width="3.0" height="9.4" fill="#c99439"/>
<rect x="366.4" y="310.74" width="65.5" height="2.9" fill="#85503c"/>
<rect x="366.4" y="307.49" width="3.0" height="9.4" fill="#6c4b3c"/>
<rect x="428.9" y="307.49" width="3.0" height="9.4" fill="#6c4b3c"/>
<rect x="361.4" y="393.32" width="28.8" height="2.9" fill="#31a055"/>
<rect x="361.4" y="390.07" width="3.0" height="9.4" fill="#2b8e4b"/>
<rect x="387.2" y="390.07" width="3.0" height="9.4" fill="#2b8e4b"/>
<rect x="365.0" y="517.19" width="44.0" height="2.9" fill="#85503c"/>
<rect x="365.0" y="513.94" width="3.0" height="9.4" fill="#6c4b3c"/>
<rect x="406.0" y="513.94" width="3.0" height="9.4" fill="#6c4b3c"/>
<rect x="372.4" y="525.45" width="19.4" height="2.9" fill="#31a055"/>
<rect x="372.4" y="522.20" width="3.0" height="9.4" fill="#2b8e4b"/>
<rect x="388.8" y="522.20" width="3.0" height="9.4" fill="#2b8e4b"/>
<rect x="361.9" y="616.28" width="18.7" height="2.9" fill="#d9a243"/>
<rect x="361.9" y="613.03" width="3.0" height="9.4" fill="#c99439"/>
<rect x="377.6" y="613.03" width="3.0" height="9.4" fill="#c99439"/>
<rect x="384.0" y="624.54" width="36.6" height="2.9" fill="#85503c"/>
<rect x="384.0" y="621.29" width="3.0" height="9.4" fill="#6c4b3c"/>
<rect x="417.6" y="621.29" width="3.0" height="9.4" fill="#6c4b3c"/>
<rect x="548.8" y="13.45" width="17.0" height="2.9" fill="#3c44b6"/>
<rect x="548.8" y="10.20" width="3.0" height="9.4" fill="#323896"/>
<rect x="562.8" y="10.20" width="3.0" height="9.4" fill="#323896"/>
<rect x="548.8" y="38.22" width="27.4" height="2.9" fill="#d9a243"/>
<rect x="548.8" y="34.97" width="3.0" height="9.4" fill="#c99439"/>
<rect x="573.2" y="34.97" width="3.0" height="9.4" fill="#c99439"/>
<rect x="548.8" y="46.48" width="12.9" height="2.9" fill="#d9a243"/>
<rect x="548.8" y="43.23" width="3.0" height="9.4" fill="#c99439"/>
<rect x="558.7" y="43.23" width="3.0" height="9.4" fill="#c99439"/>
<rect x="548.8" y="54.74" width="23.2" height="2.9" fill="#d9a243"/>
<rect x="548.8" y="51.49" width="3.0" height="9.4" fill="#c99439"/>
<rect x="569.0" y="51.49" width="3.0" height="9.4" fill="#c99439"/>
<rect x="548.8" y="71.26" width="21.5" height="2.9" fill="#d9a243"/>
<rect x="548.8" y="68.01" width="3.0" height="9.4" fill="#c99439"/>
<rect x="567.3" y="68.01" width="3.0" height="9.4" fill="#c99439"/>
<rect x="548.3" y="129.06" width="26.9" height="2.9" fill="#3c44b6"/>
<rect x="548.3" y="125.81" width="3.0" height="9.4" fill="#323896"/>
<rect x="572.2" y="125.81" width="3.0" height="9.4" fill="#323896"/>
<rect x="548.3" y="153.84" width="17.4" height="2.9" fill="#3c44b6"/>
<rect x="548.3" y="150.59" width="3.0" height="9.4" fill="#323896"/>
<rect x="562.7" y="150.59" width="3.0" height="9.4" fill="#323896"/>
<rect x="548.3" y="186.87" width="17.8" height="2.9" fill="#85503c"/>
<rect x="548.3" y="183.62" width="3.0" height="9.4" fill="#6c4b3c"/>
<rect x="563.1" y="183.62" width="3.0" height="9.4" fill="#6c4b3c"/>
<rect x="548.3" y="244.67" width="15.9" height="2.9" fill="#85503c"/>
<rect x="548.3" y="241.42" width="3.0" height="9.4" fill="#6c4b3c"/>
<rect x="561.2" y="241.42" width="3.0" height="9.4" fill="#6c4b3c"/>
<rect x="547.9" y="335.51" width="130.2" height="2.9" fill="#31a055"/>
<rect x="547.9" y="332.26" width="3.0" height="9.4" fill="#2b8e4b"/>
<rect x="675.1" y="332.26" width="3.0" height="9.4" fill="#2b8e4b"/>
<rect x="548.3" y="550.22" width="18.6" height="2.9" fill="#d9a243"/>
<rect x="548.3" y="546.97" width="3.0" height="9.4" fill="#c99439"/>
<rect x="563.9" y="546.97" width="3.0" height="9.4" fill="#c99439"/>
<g fill="#111" stroke="#111" stroke-width="0.35" font-weight="bold" font-size="13">
<text x="130" y="653.8">A)</text><text x="335.9" y="653.8">B)</text><text x="522.8" y="653.8">C)</text>
</g>
<text x="122.6" y="678.6" font-size="10" font-weight="bold" text-anchor="end" fill="#111" stroke="#111" stroke-width="0.2">Coefficient :</text>
<g fill="#1e1e1e" stroke="#1e1e1e" stroke-width="0.3" font-size="14.4" text-anchor="middle">
<text x="224.2" y="705.1">beetle pupa</text><text x="422.2" y="705.1">mummy</text><text x="606.6" y="705.1">dead larva</text>
</g>
</svg></body></html>
